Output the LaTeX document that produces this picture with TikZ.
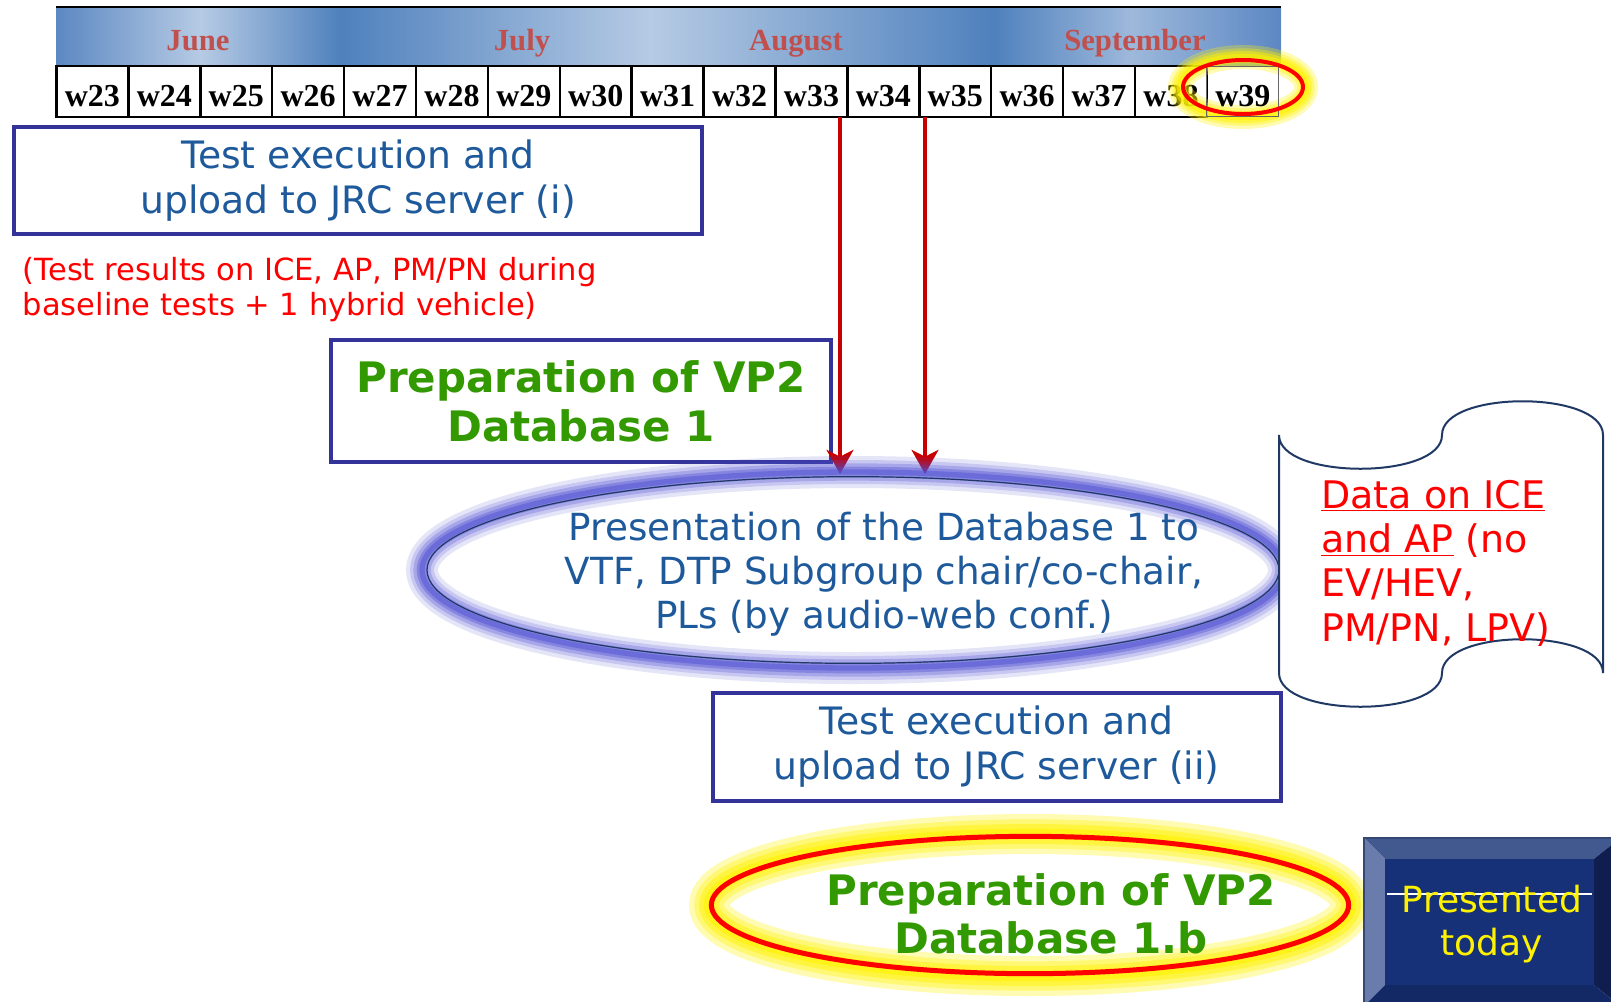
\documentclass[tikz,border=0pt]{standalone}
\usepackage{fontspec}
\setmainfont{DejaVu Sans}
\newfontfamily\wkfont{Liberation Serif}
\usetikzlibrary{arrows.meta,shapes.geometric,fadings}

\definecolor{boxborder}{RGB}{51,51,153}
\definecolor{bluetext}{RGB}{30,90,155}
\definecolor{greentext}{RGB}{51,153,0}
\definecolor{monthred}{RGB}{192,80,77}
\definecolor{bandA}{RGB}{100,140,198}
\definecolor{bandL}{RGB}{238,243,250}
\definecolor{bandD}{RGB}{79,129,189}
\definecolor{bandM}{RGB}{200,215,236}
\definecolor{arrowred}{RGB}{200,0,0}
\definecolor{glowblue}{RGB}{80,80,210}
\definecolor{scrollline}{RGB}{31,56,100}
\definecolor{bevL}{RGB}{106,124,171}
\definecolor{bevT}{RGB}{66,89,143}
\definecolor{bevR}{RGB}{15,30,78}
\definecolor{bevB}{RGB}{18,41,102}
\definecolor{bevI}{RGB}{22,49,120}

\tikzfading[name=bandfade, top color=transparent!65, middle color=transparent!100, bottom color=transparent!65]

\begin{document}
\begin{tikzpicture}[x=0.75pt,y=-0.75pt,
  wk/.style={draw=black, line width=1.8pt, minimum width=53.9pt, minimum height=38pt,
    inner sep=0pt, text height=22pt, text depth=0pt,
    font=\wkfont\bfseries\fontsize{24}{24}\selectfont},
  month/.style={font=\wkfont\bfseries\fontsize{23}{23}\selectfont, text=monthred, anchor=base, inner sep=0pt},
  bluebox/.style={draw=boxborder, line width=3pt, fill=white, align=center, inner sep=0pt,
    text=bluetext, font=\fontsize{28.3}{33.75}\selectfont},
  greenbox/.style={draw=boxborder, line width=3pt, fill=white, align=center, inner sep=0pt,
    text=greentext, font=\bfseries\fontsize{31.5}{36.75}\selectfont},
  bluetxt/.style={align=center, inner sep=0pt, text=bluetext, font=\fontsize{28}{33}\selectfont},
  greentxt/.style={align=center, inner sep=0pt, text=greentext, font=\bfseries\fontsize{31.5}{36}\selectfont},
  redarrow/.style={draw=arrowred, line width=3.5pt, -{Stealth[length=18pt, width=20pt, inset=5pt]}},
]
\useasboundingbox (0,0) rectangle (1611,1001);

% ---------- month band ----------
\shade[left color=bandA, right color=bandL] (56,8) rectangle (201,66);
\shade[left color=bandL, right color=bandD] (200,8) rectangle (341,66);
\shade[left color=bandD, right color=bandL] (340,8) rectangle (651,66);
\shade[left color=bandL, right color=bandD] (650,8) rectangle (994,66);
\shade[left color=bandD, right color=bandM] (993,8) rectangle (1131,66);
\shade[left color=bandM, right color=bandA] (1130,8) rectangle (1281,66);
\fill[bandD, path fading=bandfade] (56,8) rectangle (1281,66);
\draw[black, line width=1.5pt] (56,7) -- (1281,7);

\node[month] (june) at (198,50) {June};
\node[month] (july) at (522,50) {July};
\node[month] (aug) at (796,50) {August};
\node[month] (sep) at (1135,50) {September};

% ---------- week row ----------
\foreach \i in {0,...,15} {
  \pgfmathtruncatemacro\n{23+\i}
  \node[wk] (w\n) at ({56.5+71.9*(\i+0.5)},91.5) {w\n};
}

% ---------- w39 highlight ----------
\foreach \w/\o in {18/0.3,13/0.35,9/0.45,5/0.55}
  \draw[yellow, line width=\w pt, opacity=\o] (1243,87) ellipse [x radius=63, y radius=30];
\node[wk, draw=black!60, line width=0.8pt] (w39) at ({56.5+71.9*16.5},91.5) {w39};
\draw[red, line width=3pt] (1243,87) ellipse [x radius=60, y radius=27];

% ---------- boxes ----------
\node[bluebox, minimum width=516pt, minimum height=80.5pt] (b1) at (358,180.5)
  {Test execution and\\upload to JRC server (i)};

\node[align=left, anchor=west, inner sep=0pt, text=red, font=\fontsize{22.9}{26.25}\selectfont] (note) at (22.6,290)
  {(Test results on ICE, AP, PM/PN during\\baseline tests + 1 hybrid vehicle)};

\node[greenbox, minimum width=375pt, minimum height=91.5pt] (b2) at (581,401)
  {Preparation of VP2\\Database 1};

% ---------- arrows ----------
\coordinate (a1s) at (840,117);
\coordinate (a1e) at (840,474);
\coordinate (a2s) at (925,117);
\coordinate (a2e) at (925,474);
\draw[redarrow] (a1s) -- (a1e);
\draw[redarrow] (a2s) -- (a2e);

% ---------- presentation ellipse ----------
\foreach \w/\o in {24/0.15,18/0.2,13/0.28,8/0.38,4/0.5}
  \draw[glowblue, line width=\w pt, opacity=\o] (853,570) ellipse [x radius=431, y radius=98];
\node[ellipse, draw=scrollline, line width=0.9pt, minimum width=639pt, minimum height=140pt, inner sep=0pt] (pres) at (853,570) {};
\node[bluetxt] (prestext) at (884,574)
  {Presentation of the Database 1 to\\VTF, DTP Subgroup chair/co-chair,\\PLs (by audio-web conf.)};

% ---------- scroll ----------
\draw[scrollline, line width=1.5pt, fill=white]
  (1279,435) .. controls (1279,480) and (1442,480) .. (1442,435)
  .. controls (1442,390) and (1603,390) .. (1603,435) -- (1603,673)
  .. controls (1603,628) and (1442,628) .. (1442,673)
  .. controls (1442,718) and (1279,718) .. (1279,673) -- cycle;
\node[align=left, anchor=west, inner sep=0pt, text=red, font=\fontsize{28.5}{33.2}\selectfont] (data) at (1321,563)
  {\underline{Data on ICE}\\\underline{and AP} (no\\EV/HEV,\\PM/PN, LPV)};

% ---------- box 3 ----------
\node[bluebox, minimum width=426pt, minimum height=81pt] (b3) at (996.5,747)
  {Test execution and\\upload to JRC server (ii)};

% ---------- database 1.b ellipse ----------
\foreach \w/\o in {30/0.3,22/0.35,15/0.45,8/0.6}
  \draw[yellow, line width=\w pt, opacity=\o] (1030,905) ellipse [x radius=321, y radius=71];
\node[ellipse, draw=red, line width=3.75pt, minimum width=478pt, minimum height=103pt, inner sep=0pt] (prepb) at (1030,905) {};
\node[greentxt] (prepbtext) at (1051,914) {Preparation of VP2\\Database 1.b};

% ---------- presented today ----------
\fill[bevT] (1364,838) -- (1620,838) -- (1594,859) -- (1385,859) -- cycle;
\fill[bevL] (1364,838) -- (1385,859) -- (1385,985) -- (1364,1006) -- cycle;
\fill[bevR] (1620,838) -- (1594,859) -- (1594,985) -- (1620,1006) -- cycle;
\fill[bevB] (1364,1006) -- (1385,985) -- (1594,985) -- (1620,1006) -- cycle;
\fill[bevI] (1385,859) rectangle (1594,985);
\draw[bevT!80!black, line width=1pt] (1364,838) rectangle (1620,1006);
\draw[white, line width=1pt] (1387,894) -- (1592,894);
\node[align=center, inner sep=0pt, text=yellow, font=\fontsize{27}{32}\selectfont] (today) at (1492,924)
  {Presented\\today};
\end{tikzpicture}
\end{document}
